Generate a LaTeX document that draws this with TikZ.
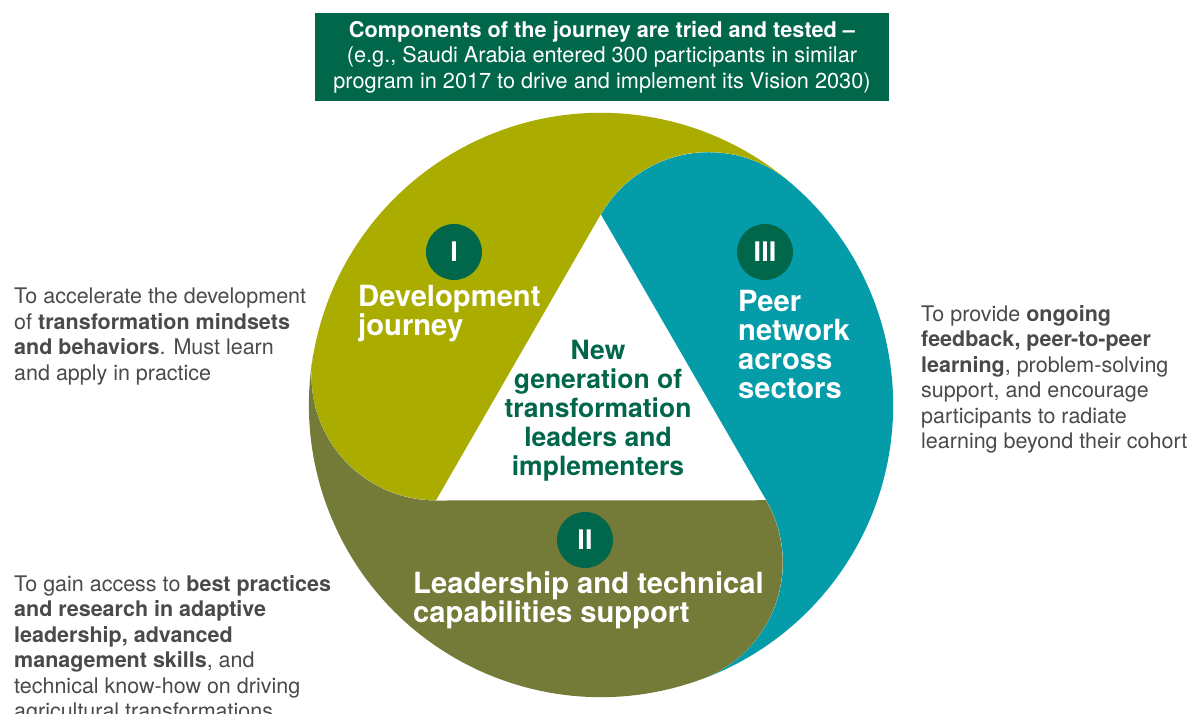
\documentclass[tikz,border=0pt]{standalone}
\usepackage{fontspec}
\setmainfont{TeX Gyre Heros}
\usepackage{tikz}
\usetikzlibrary{positioning}
\definecolor{Ink}{HTML}{4A4A4A}
\definecolor{Forest}{HTML}{00674A}
\definecolor{Lime}{HTML}{AAAD00}
\definecolor{Teal}{HTML}{059CAA}
\definecolor{Olive}{HTML}{747A37}
\tikzset{
  note/.style={text=Ink,font=\fontsize{21.5}{25.5}\selectfont,align=left,anchor=north west,inner sep=0pt},
  lobetext/.style={text=white,font=\bfseries\fontsize{29.2}{29}\selectfont,align=left,anchor=north west,inner sep=0pt},
  coretext/.style={text=Forest,font=\bfseries\fontsize{26.5}{29}\selectfont,align=center,anchor=north,inner sep=0pt},
  badge/.style={circle,fill=Forest,minimum size=56pt,inner sep=0pt,text=white,font=\bfseries\fontsize{27}{27}\selectfont},
  headbox/.style={fill=Forest,text=white,minimum width=574pt,minimum height=88pt,align=center,font=\fontsize{21.7}{25.5}\selectfont}
}
\begin{document}
\begin{tikzpicture}[x=1pt,y=1pt]
  \useasboundingbox[fill=white] (0,0) rectangle (1192,714);
  \coordinate (O) at (601,309);

  % three lobes round the white triangle
  \foreach \turn/\col in {0/Teal,120/Lime,240/Olive}{
    \fill[\col,rotate around={\turn:(O)}] (601,499.5)
      arc[start angle=150,end angle=50,radius=124.5]
      arc[start angle=50,end angle=-70,radius=292]
      arc[start angle=-70,end angle=30,radius=124.5] -- cycle;
  }

  \node[headbox] (head) at (602,657) {\textbf{Components of the journey are tried and tested –}\\(e.g., Saudi Arabia entered 300 participants in similar\\program in 2017 to drive and implement its Vision 2030)};

  \node[badge] (one) at (454,462) {I};
  \node[badge] (three) at (765,462) {III};
  \node[badge] (two) at (585,174) {II};

  \node[lobetext] (dev) at (358,429) {Development\\journey};
  \node[lobetext] (peer) at (738,424) {Peer\\network\\across\\sectors};
  \node[lobetext] (lead) at (413,142) {Leadership and technical\\capabilities support};
  \node[coretext] (core) at (598,374) {New\\generation of\\transformation\\leaders and\\implementers};

  \node[note] (devnote) at (14,426) {To accelerate the development\\of \textbf{transformation mindsets}\\\textbf{and behaviors}. Must learn\\and apply in practice};
  \node[note] (leadnote) at (14,139) {To gain access to \textbf{best practices}\\\textbf{and research in adaptive}\\\textbf{leadership, advanced}\\\textbf{management skills}, and\\technical know-how on driving\\agricultural transformations};
  \node[note] (peernote) at (921,409) {To provide \textbf{ongoing}\\\textbf{feedback, peer-to-peer}\\\textbf{learning}, problem-solving\\support, and encourage\\participants to radiate\\learning beyond their cohort};
\end{tikzpicture}
\end{document}
